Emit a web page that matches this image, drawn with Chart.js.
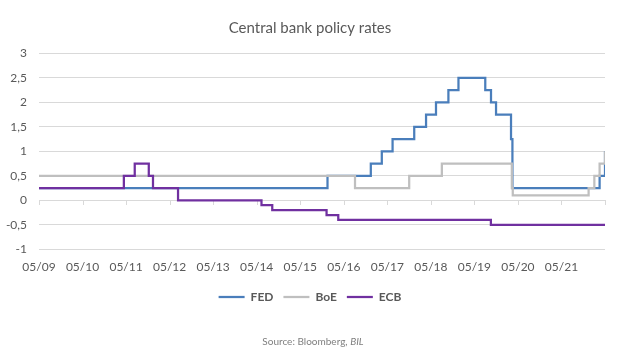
<!DOCTYPE html>
<html>
<head>
<meta charset="utf-8">
<script src="https://cdn.jsdelivr.net/npm/chart.js@4.4.1/dist/chart.umd.min.js"></script>
<style>
  body { margin: 0; background: #fff; }
  #wrap { position: relative; width: 641px; height: 362px; }
  #source { position: absolute; left: 0; width: 626px; top: 335px; text-align: center;
            font: 10px Lato, sans-serif; color: #7f7f7f; }
</style>
</head>
<body>
<div id="wrap">
  <canvas id="chart" width="641" height="362"></canvas>
  <div id="source">Source: Bloomberg, <i>BIL</i></div>
</div>
<script>
// policy rate change dates and the new rate from that date (last entry = end of chart)
const fedDates = ['2009-05-01', '2015-12-17', '2016-12-15', '2017-03-16', '2017-06-15', '2017-12-14',
  '2018-03-22', '2018-06-14', '2018-09-27', '2018-12-20', '2019-08-01', '2019-09-19', '2019-10-31',
  '2020-03-04', '2020-03-16', '2022-03-17', '2022-05-01'];
const fedRates = [0.25, 0.5, 0.75, 1, 1.25, 1.5, 1.75, 2, 2.25, 2.5, 2.25, 2, 1.75, 1.25, 0.25, 0.5, 1];

const boeDates = ['2009-05-01', '2016-08-04', '2017-11-02', '2018-08-02', '2020-03-11', '2020-03-19',
  '2021-12-16', '2022-02-03', '2022-03-17', '2022-05-01'];
const boeRates = [0.5, 0.25, 0.5, 0.75, 0.25, 0.1, 0.25, 0.5, 0.75, 1];

const ecbDates = ['2009-05-01', '2011-04-13', '2011-07-13', '2011-11-09', '2011-12-14', '2012-07-11',
  '2014-06-11', '2014-09-10', '2015-12-09', '2016-03-16', '2019-09-18', '2022-05-01'];
const ecbRates = [0.25, 0.5, 0.75, 0.5, 0.25, 0, -0.1, -0.2, -0.3, -0.4, -0.5, -0.5];

const xTickLabels = ['05/09', '05/10', '05/11', '05/12', '05/13', '05/14', '05/15',
  '05/16', '05/17', '05/18', '05/19', '05/20', '05/21'];

// x axis runs in months counted from May 2009
function monthsFromStart(d) {
  const [y, m, day] = d.split('-').map(Number);
  return (y - 2009) * 12 + (m - 5) + (day - 1) / 31;
}
function toPoints(dates, rates) {
  return dates.map((d, i) => ({ x: monthsFromStart(d), y: rates[i] }));
}

const gridColor = '#d9d9d9';
const textColor = '#595959';
const font = 'Lato';

// small tick marks hanging below the zero line
const zeroTicks = {
  id: 'zeroTicks',
  beforeDatasetsDraw(chart) {
    const { ctx, scales: { x, y } } = chart;
    const y0 = Math.round(y.getPixelForValue(0));
    ctx.save();
    ctx.strokeStyle = gridColor;
    ctx.lineWidth = 1;
    x.ticks.forEach(t => {
      const px = Math.round(x.getPixelForValue(t.value)) + 0.5;
      ctx.beginPath();
      ctx.moveTo(px, y0);
      ctx.lineTo(px, y0 + 5);
      ctx.stroke();
    });
    ctx.restore();
  }
};

function line(label, dates, rates, color, order) {
  return {
    label: label,
    data: toPoints(dates, rates),
    borderColor: color,
    backgroundColor: color,
    borderWidth: 2.25,
    pointRadius: 0,
    stepped: 'before',
    order: order
  };
}

new Chart(document.getElementById('chart'), {
  type: 'line',
  data: {
    datasets: [
      line('FED', fedDates, fedRates, '#4a7ebb', 3),
      line('BoE', boeDates, boeRates, '#bfbfbf', 2),
      line('ECB', ecbDates, ecbRates, '#7030a0', 1)
    ]
  },
  options: {
    responsive: false,
    animation: false,
    layout: { padding: { left: 0, right: 21, top: 0, bottom: 49 } },
    plugins: {
      title: {
        display: true,
        text: 'Central bank policy rates',
        color: textColor,
        font: { family: font, size: 15, weight: 'normal' },
        padding: { top: 19.5, bottom: 16 }
      },
      legend: {
        position: 'bottom',
        labels: {
          usePointStyle: true,
          pointStyle: 'line',
          pointStyleWidth: 26,
          padding: 10,
          color: textColor,
          font: { family: font, size: 12, weight: 'bold' },
          sort: (a, b) => a.datasetIndex - b.datasetIndex
        }
      },
      tooltip: { enabled: false }
    },
    scales: {
      x: {
        type: 'linear',
        min: 0,
        max: 156,
        grid: { display: false, drawTicks: false },
        border: { display: false },
        ticks: {
          stepSize: 12,
          autoSkip: false,
          maxRotation: 0,
          padding: 11,
          color: textColor,
          font: { family: font, size: 12 },
          callback: v => xTickLabels[v / 12] || ''
        },
        afterFit: s => { s.height = 31.7; }
      },
      y: {
        min: -1,
        max: 3,
        grid: { color: gridColor, drawTicks: false },
        border: { display: false },
        ticks: {
          stepSize: 0.5,
          padding: 12,
          color: textColor,
          font: { family: font, size: 12 },
          callback: v => String(v).replace('.', ',')
        },
        afterFit: s => { s.width = 39; }
      },
      yRight: {
        position: 'right',
        grid: { display: false },
        border: { display: false },
        ticks: { display: false },
        afterFit: s => { s.width = 15; }
      }
    }
  },
  plugins: [zeroTicks]
});
</script>
</body>
</html>
